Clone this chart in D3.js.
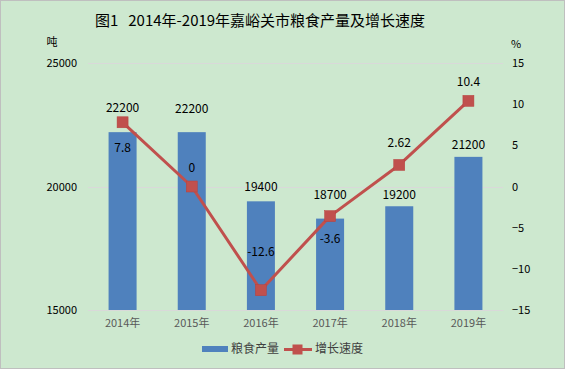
<!DOCTYPE html>
<html><head><meta charset="utf-8">
<script src="https://cdn.jsdelivr.net/npm/d3@7"></script>
<style>
html,body{margin:0;padding:0;background:#fff;}
svg text{font-family:"Noto Sans CJK SC","Microsoft YaHei",sans-serif;}
</style></head>
<body>
<svg id="c" width="565" height="369"></svg>
<script>
const categories = ["2014年","2015年","2016年","2017年","2018年","2019年"];
const production = [22200, 22200, 19400, 18700, 19200, 21200];
const growth = [7.8, 0, -12.6, -3.6, 2.62, 10.4];
const leftTicks = [15000, 20000, 25000];
const rightTicks = [-15, -10, -5, 0, 5, 10, 15];

// label layout (pixel offsets of label centers relative to mark)
const barLabelDy = [-24, -23, -15, -24, -11, -12];
const lineLabelDy = [26, -19, -38, 23, -22, -19];

const W = 565, H = 369;
const svg = d3.select("#c");
svg.append("rect").attr("x",0.5).attr("y",0.5).attr("width",W-1).attr("height",H-1)
  .attr("fill","#CDE8CF").attr("stroke","#BFBFBF");

const m = {left: 88, right: 503, top: 63, bottom: 310};
const x = d3.scaleBand().domain(categories).range([m.left, m.right]).paddingInner(0.595).paddingOuter(0.2975);
const yL = d3.scaleLinear().domain([15000, 25000]).range([m.bottom, m.top]);
const yR = d3.scaleLinear().domain([-15, 15]).range([m.bottom, m.top]);

// title
svg.append("text").attr("x", 260).attr("y", 26).attr("text-anchor","middle")
  .attr("font-size", 15).attr("fill","#000")
  .text("图1\u00a0\u00a0\u00a02014年-2019年嘉峪关市粮食产量及增长速度");
svg.append("text").attr("x", 52).attr("y", 46).attr("text-anchor","middle").attr("font-size",11).text("吨");
svg.append("text").attr("x", 516).attr("y", 48).attr("text-anchor","middle").attr("font-size",11).text("%");

// gridlines
svg.append("g").selectAll("line").data(leftTicks).join("line")
  .attr("x1", m.left).attr("x2", m.right)
  .attr("y1", d => Math.round(yL(d))+0.5).attr("y2", d => Math.round(yL(d))+0.5)
  .attr("stroke","#D9D9D9").attr("stroke-width",1);

// left axis
const gl = svg.append("g").attr("transform",`translate(${m.left},0)`)
  .call(d3.axisLeft(yL).tickValues(leftTicks).tickSize(0).tickPadding(11).tickFormat(d3.format("d")));
gl.select(".domain").remove();
gl.selectAll("text").attr("font-size",11).attr("fill","#000").attr("font-family","Noto Sans CJK SC, sans-serif");

// right axis
const gr = svg.append("g").attr("transform",`translate(${m.right},0)`)
  .call(d3.axisRight(yR).tickValues(rightTicks).tickSize(0).tickPadding(9).tickFormat(d3.format("d")));
gr.select(".domain").remove();
gr.selectAll("text").attr("font-size",11).attr("fill","#000").attr("font-family","Noto Sans CJK SC, sans-serif");

// bars
svg.append("g").selectAll("rect").data(production).join("rect")
  .attr("x",(d,i)=>x(categories[i])).attr("width",x.bandwidth())
  .attr("y",d=>yL(d)).attr("height",d=>yL(15000)-yL(d))
  .attr("fill","#4F81BD");

// x axis
const gx = svg.append("g").attr("transform",`translate(0,${m.bottom})`)
  .call(d3.axisBottom(x).tickSize(0).tickPadding(9));
gx.select(".domain").attr("stroke","#D9D9D9");
gx.selectAll("text").attr("font-size",11).attr("fill","#595959").attr("font-family","Noto Sans CJK SC, sans-serif");

// line
const cx = (i) => x(categories[i]) + x.bandwidth()/2;
const line = d3.line().x((d,i)=>cx(i)).y(d=>yR(d));
svg.append("path").datum(growth).attr("d",line).attr("fill","none")
  .attr("stroke","#C0504D").attr("stroke-width",3).attr("stroke-linejoin","round");
svg.append("g").selectAll("rect").data(growth).join("rect")
  .attr("x",(d,i)=>cx(i)-5.5).attr("y",d=>yR(d)-5.5).attr("width",11).attr("height",11)
  .attr("fill","#C0504D").attr("stroke","#B7413E").attr("stroke-width",0.5);

// bar labels
svg.append("g").selectAll("text").data(production).join("text")
  .attr("x",(d,i)=>cx(i)).attr("y",(d,i)=>yL(d)+barLabelDy[i])
  .attr("dy","0.35em").attr("text-anchor","middle").attr("font-size",12).attr("fill","#000")
  .text(d=>d);
// line labels
svg.append("g").selectAll("text").data(growth).join("text")
  .attr("x",(d,i)=>cx(i)).attr("y",(d,i)=>yR(d)+lineLabelDy[i])
  .attr("dy","0.35em").attr("text-anchor","middle").attr("font-size",12).attr("fill","#000")
  .text(d=>d);

// legend
const lg = svg.append("g");
lg.append("rect").attr("x",202).attr("y",346).attr("width",26).attr("height",6).attr("fill","#4F81BD");
lg.append("text").attr("x",231).attr("y",349).attr("dy","0.35em").attr("font-size",12).attr("fill","#404040").text("粮食产量");
lg.append("line").attr("x1",284).attr("x2",312).attr("y1",349.5).attr("y2",349.5).attr("stroke","#C0504D").attr("stroke-width",3);
lg.append("rect").attr("x",292.5).attr("y",344.5).attr("width",10).attr("height",10).attr("fill","#C0504D");
lg.append("text").attr("x",315).attr("y",349).attr("dy","0.35em").attr("font-size",12).attr("fill","#404040").text("增长速度");
</script>
</body></html>
